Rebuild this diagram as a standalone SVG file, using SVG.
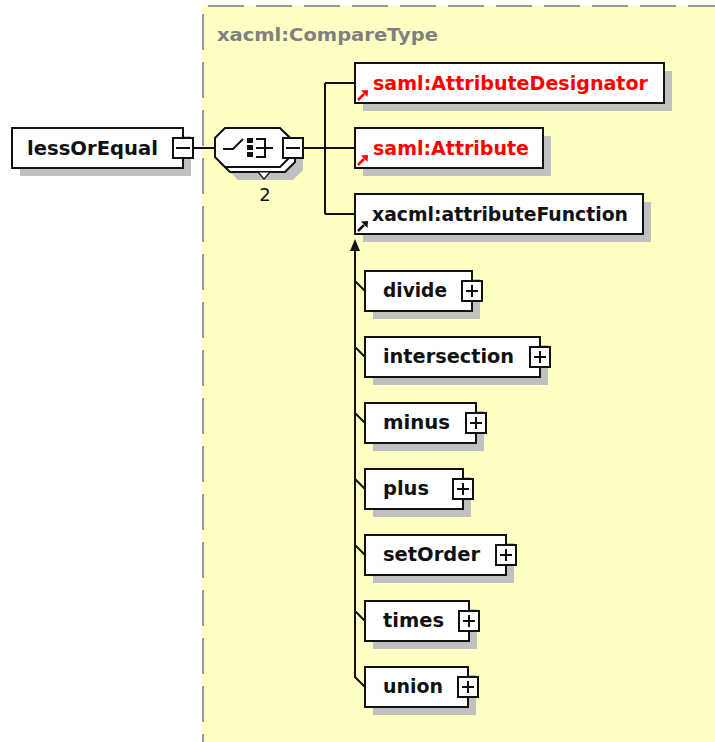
<svg xmlns="http://www.w3.org/2000/svg" width="715" height="742" viewBox="0 0 715 742">
<style>
.bg{fill:#FFFFC4}
.border{fill:none;stroke:#999;stroke-width:2;stroke-dasharray:36 12}
.box{fill:#fff;stroke:#111;stroke-width:2}
.sh{fill:#C0C0C0}
.ln{fill:none;stroke:#111;stroke-width:2}
.t{font-family:"DejaVu Sans",Verdana,sans-serif;font-weight:bold;font-size:19px;fill:#111}
.red{fill:#FF0000}
.title{font-family:"DejaVu Sans",Verdana,sans-serif;font-weight:bold;font-size:18px;fill:#808080}
.num{font-family:"DejaVu Sans",Verdana,sans-serif;font-size:18px;fill:#111}
.ico-r{fill:#FF0000;stroke:#FF0000}
.ico-k{fill:#111;stroke:#111}
</style>
<defs>
<g id="refIcon">
<line x1="1" y1="-1" x2="7" y2="-7" stroke-width="2.5"/>
<polygon points="11,-11 4,-10.5 10.5,-4" stroke="none"/>
</g>
<g id="plusBox">
<rect x="0" y="0" width="20" height="20" class="box"/>
<line x1="4" y1="10" x2="16" y2="10" class="ln" stroke-width="1.8"/>
<line x1="10" y1="4" x2="10" y2="16" class="ln" stroke-width="1.8"/>
</g>
<g id="minusBox">
<rect x="0" y="0" width="20" height="20" class="box"/>
<line x1="3" y1="10" x2="17" y2="10" class="ln" stroke-width="1.8"/>
</g>
</defs>

<g id="complexType">
<rect x="202" y="5" width="513" height="737" class="bg"/>
<line x1="208" y1="6" x2="715" y2="6" class="border"/>
<line x1="203" y1="14" x2="203" y2="742" class="border"/>
<text x="217" y="41" class="title" textLength="221" lengthAdjust="spacingAndGlyphs">xacml:CompareType</text>
</g>

<g id="connectors">
<line x1="193" y1="148" x2="215" y2="148" class="ln"/>
<line x1="303" y1="148" x2="325" y2="148" class="ln"/>
<line x1="325" y1="83" x2="325" y2="214" class="ln"/>
<line x1="325" y1="83" x2="355" y2="83" class="ln"/>
<line x1="325" y1="148" x2="355" y2="148" class="ln"/>
<line x1="325" y1="214" x2="355" y2="214" class="ln"/>
<polyline points="355,248 355,677 365,687" class="ln"/>
<polygon points="355,239 350,251 360,251" fill="#111"/>
<line x1="355" y1="281" x2="365" y2="291" class="ln"/>
<line x1="355" y1="347" x2="365" y2="357" class="ln"/>
<line x1="355" y1="413" x2="365" y2="423" class="ln"/>
<line x1="355" y1="479" x2="365" y2="489" class="ln"/>
<line x1="355" y1="545" x2="365" y2="555" class="ln"/>
<line x1="355" y1="611" x2="365" y2="621" class="ln"/>
</g>

<g id="lessOrEqual">
<rect x="20" y="136" width="171" height="40" class="sh"/>
<rect x="12" y="128" width="171" height="40" class="box"/>
<text x="27" y="155" class="t" textLength="131" lengthAdjust="spacingAndGlyphs">lessOrEqual</text>
<use href="#minusBox" x="173" y="138"/>
</g>

<g id="sequence">
<path d="M238,141 H293 L303,151 V170 L293,180 H238 L228,170 V151 Z" class="sh"/>
<path d="M230,133 H285 L295,143 V162 L285,172 H230 L220,162 V143 Z" class="box"/>
<polygon points="258,172 270,172 264,179" fill="#fff" stroke="#111" stroke-width="1.2"/>
<path d="M225,128 H280 L290,138 V157 L280,167 H225 L215,157 V138 Z" class="box"/>
<polyline points="223,149 233,149 243,139" class="ln"/>
<rect x="247" y="138" width="6" height="5" fill="#111"/>
<rect x="247" y="145" width="6" height="5" fill="#111"/>
<rect x="247" y="152" width="6" height="5" fill="#111"/>
<path d="M256,139 H265 V157 H256 M256,148 H273" class="ln"/>
<use href="#minusBox" x="283" y="138"/>
<text x="265" y="201" class="num" text-anchor="middle">2</text>
</g>

<g id="AttributeDesignator">
<rect x="363" y="71" width="309" height="40" class="sh"/>
<rect x="355" y="63" width="309" height="40" class="box"/>
<use href="#refIcon" x="357" y="101" class="ico-r"/>
<text x="373" y="90" class="t red" textLength="275" lengthAdjust="spacingAndGlyphs">saml:AttributeDesignator</text>
</g>

<g id="Attribute">
<rect x="363" y="136" width="188" height="40" class="sh"/>
<rect x="355" y="128" width="188" height="40" class="box"/>
<use href="#refIcon" x="357" y="166" class="ico-r"/>
<text x="373" y="155" class="t red" textLength="156" lengthAdjust="spacingAndGlyphs">saml:Attribute</text>
</g>

<g id="attributeFunction">
<rect x="363" y="202" width="288" height="40" class="sh"/>
<rect x="355" y="194" width="288" height="40" class="box"/>
<use href="#refIcon" x="357" y="232" class="ico-k"/>
<text x="372" y="221" class="t" textLength="256" lengthAdjust="spacingAndGlyphs">xacml:attributeFunction</text>
</g>

<g id="divide">
<rect x="373" y="279" width="107" height="40" class="sh"/>
<rect x="365" y="271" width="107" height="40" class="box"/>
<text x="383" y="297" class="t" textLength="64" lengthAdjust="spacingAndGlyphs">divide</text>
<use href="#plusBox" x="462" y="281"/>
</g>

<g id="intersection">
<rect x="373" y="345" width="175" height="40" class="sh"/>
<rect x="365" y="337" width="175" height="40" class="box"/>
<text x="383" y="363" class="t" textLength="131" lengthAdjust="spacingAndGlyphs">intersection</text>
<use href="#plusBox" x="530" y="347"/>
</g>

<g id="minus">
<rect x="373" y="411" width="111" height="40" class="sh"/>
<rect x="365" y="403" width="111" height="40" class="box"/>
<text x="383" y="429" class="t" textLength="67" lengthAdjust="spacingAndGlyphs">minus</text>
<use href="#plusBox" x="466" y="413"/>
</g>

<g id="plus">
<rect x="373" y="477" width="98" height="40" class="sh"/>
<rect x="365" y="469" width="98" height="40" class="box"/>
<text x="383" y="495" class="t" textLength="46" lengthAdjust="spacingAndGlyphs">plus</text>
<use href="#plusBox" x="453" y="479"/>
</g>

<g id="setOrder">
<rect x="373" y="543" width="141" height="40" class="sh"/>
<rect x="365" y="535" width="141" height="40" class="box"/>
<text x="383" y="561" class="t" textLength="97" lengthAdjust="spacingAndGlyphs">setOrder</text>
<use href="#plusBox" x="496" y="545"/>
</g>

<g id="times">
<rect x="373" y="609" width="104" height="40" class="sh"/>
<rect x="365" y="601" width="104" height="40" class="box"/>
<text x="383" y="627" class="t" textLength="61" lengthAdjust="spacingAndGlyphs">times</text>
<use href="#plusBox" x="459" y="611"/>
</g>

<g id="union">
<rect x="373" y="675" width="103" height="40" class="sh"/>
<rect x="365" y="667" width="103" height="40" class="box"/>
<text x="383" y="693" class="t" textLength="60" lengthAdjust="spacingAndGlyphs">union</text>
<use href="#plusBox" x="458" y="677"/>
</g>
</svg>
